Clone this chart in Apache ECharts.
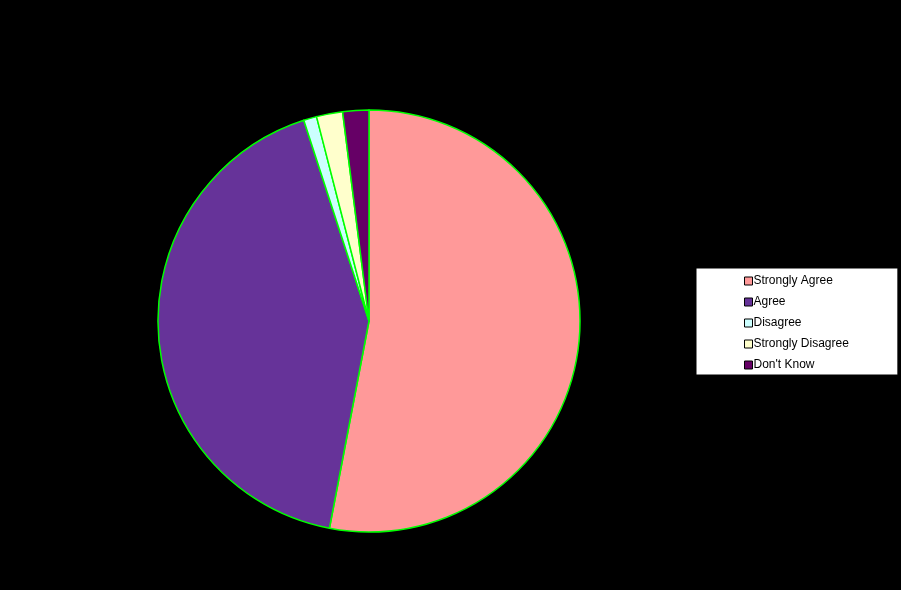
<!DOCTYPE html>
<html>
<head>
<meta charset="utf-8">
<script src="https://cdn.jsdelivr.net/npm/echarts@6/dist/echarts.min.js"></script>
<style>
  html, body { margin: 0; padding: 0; background: #000; }
  #chart { width: 901px; height: 590px; }
</style>
</head>
<body>
<div id="chart"></div>
<script>
// answers and their share (%)
var categories = ['Strongly Agree', 'Agree', 'Disagree', 'Strongly Disagree', "Don't Know"];
var values = [53, 42, 1, 2, 2];
var colors = ['#FF9999', '#663399', '#CCFFFF', '#FFFFCC', '#660066'];

var chart = echarts.init(document.getElementById('chart'));

var data = categories.map(function (name, i) {
    return { name: name, value: values[i], itemStyle: { color: colors[i] } };
});

chart.setOption({
    backgroundColor: '#000',
    animation: false,
    legend: {
        orient: 'vertical',
        left: 696,
        top: 268,
        padding: [5, 49, 2, 48],
        backgroundColor: '#fff',
        borderColor: '#000',
        borderWidth: 1,
        itemWidth: 8,
        itemHeight: 8,
        itemGap: 5,
        icon: 'rect',
        selectedMode: false,
        itemStyle: { borderColor: '#000', borderWidth: 1 },
        textStyle: {
            color: '#000',
            fontSize: 12,
            fontFamily: 'Liberation Sans, Arial, sans-serif',
            lineHeight: 16,
            padding: [0, 0, 0, -4]
        },
        data: categories
    },
    series: [{
        type: 'pie',
        center: [369, 321],
        radius: 211,
        startAngle: 90,
        clockwise: true,
        label: { show: false },
        labelLine: { show: false },
        emphasis: { disabled: true },
        itemStyle: { borderColor: '#00FF00', borderWidth: 1.5 },
        data: data
    }]
});
</script>
</body>
</html>
